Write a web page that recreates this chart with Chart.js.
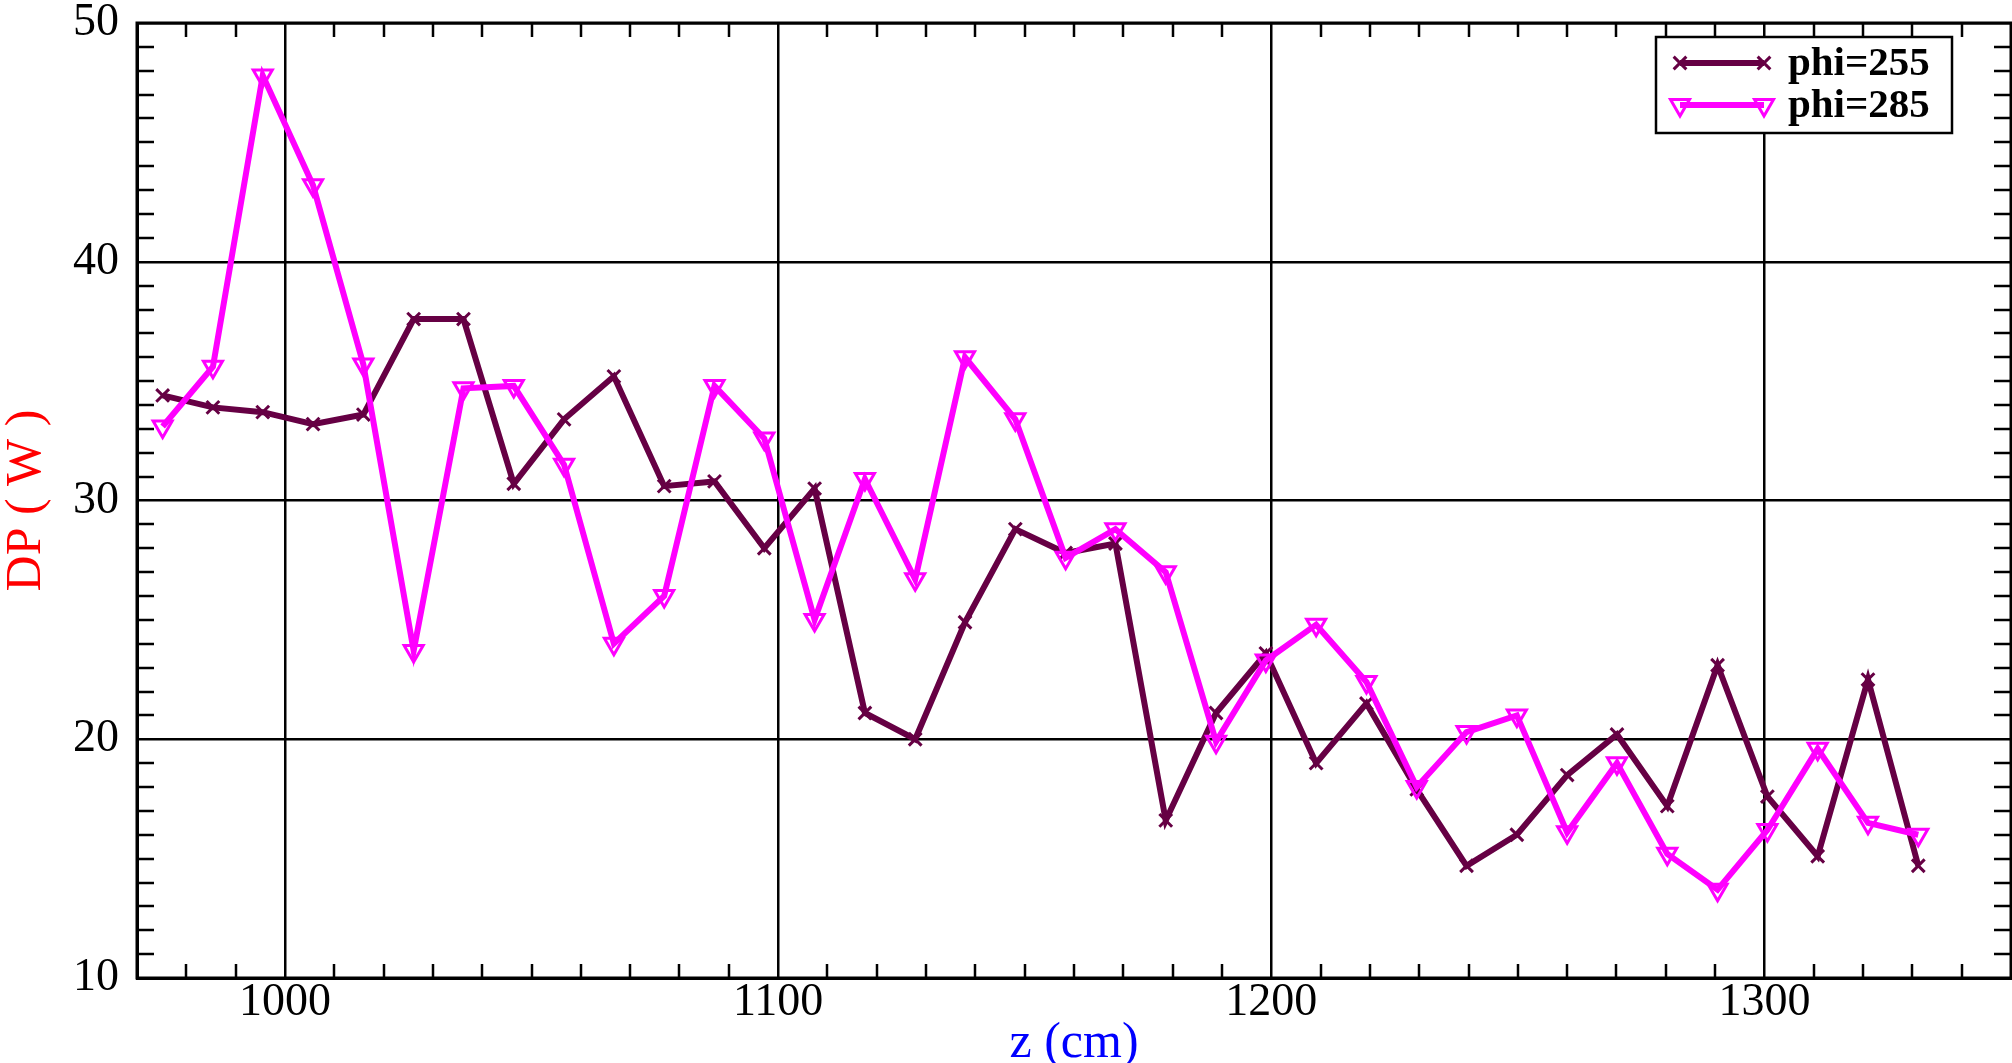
<!DOCTYPE html>
<html>
<head>
<meta charset="utf-8">
<script src="https://cdn.jsdelivr.net/npm/chart.js@4/dist/chart.umd.min.js"></script>
<style>
html, body { margin: 0; padding: 0; background: #fff; overflow: hidden; }
canvas { display: block; }
</style>
</head>
<body>
<canvas id="chart" width="2012" height="1063"></canvas>
<script>
var z_cm = [975.2, 985.4, 995.5, 1005.7, 1015.9, 1026.1, 1036.2, 1046.4, 1056.6, 1066.7,
            1076.9, 1087.1, 1097.2, 1107.4, 1117.6, 1127.8, 1137.9, 1148.1, 1158.3, 1168.4,
            1178.6, 1188.8, 1198.9, 1209.1, 1219.3, 1229.5, 1239.6, 1249.8, 1260.0, 1270.1,
            1280.3, 1290.5, 1300.6, 1310.8, 1321.0, 1331.2];
var phi_255 = [34.4, 33.9, 33.7, 33.2, 33.6, 37.6, 37.6, 30.7, 33.4, 35.2,
               30.6, 30.8, 28.0, 30.5, 21.1, 20.0, 24.9, 28.8, 27.8, 28.2,
               16.6, 21.1, 23.6, 19.0, 21.5, 17.9, 14.7, 16.0, 18.5, 20.2,
               17.2, 23.1, 17.6, 15.1, 22.5, 14.7];
var phi_285 = [33.1, 35.6, 47.8, 43.2, 35.7, 23.7, 34.7, 34.8, 31.5, 24.0,
               26.0, 34.8, 32.6, 25.0, 30.9, 26.7, 36.0, 33.4, 27.6, 28.8,
               27.0, 19.9, 23.3, 24.8, 22.4, 18.0, 20.3, 21.0, 16.1, 19.0,
               15.2, 13.7, 16.2, 19.6, 16.5, 16.0];
var series_names = ['phi=255', 'phi=285'];
var x_ticks = [1000, 1100, 1200, 1300];
var y_ticks = [10, 20, 30, 40, 50];

var serif = "'Liberation Serif', 'Times New Roman', serif";

function pairs(xs, ys) {
    return xs.map(function (x, i) { return {x: x, y: ys[i]}; });
}

// chart.js keeps a few px on the right that we don't want, push the plot to the edge
var stretch_plugin = {
    id: 'stretch',
    afterLayout: function (chart) {
        var a = chart.chartArea, sx = chart.scales.x;
        a.right = 2011;
        a.width = a.right - a.left;
        sx.right = 2011;
        sx.width = sx.right - sx.left;
        sx.configure();
    }
};

// frame on all four sides plus the small inward ticks
var frame_plugin = {
    id: 'frame',
    afterDatasetsDraw: function (chart) {
        var ctx = chart.ctx, a = chart.chartArea;
        var sx = chart.scales.x, sy = chart.scales.y;
        ctx.save();
        ctx.strokeStyle = '#000';
        ctx.lineWidth = 2.5;
        ctx.beginPath();
        for (var v = 980; v < 1350; v += 10) {
            if (v % 100 == 0) continue;
            var px = Math.round(sx.getPixelForValue(v));
            ctx.moveTo(px, a.bottom); ctx.lineTo(px, a.bottom - 14);
            ctx.moveTo(px, a.top); ctx.lineTo(px, a.top + 14);
        }
        for (var w = 11; w < 50; w++) {
            if (w % 10 == 0) continue;
            var py = Math.round(sy.getPixelForValue(w));
            ctx.moveTo(a.left, py); ctx.lineTo(a.left + 17, py);
            ctx.moveTo(a.right, py); ctx.lineTo(a.right - 17, py);
        }
        ctx.stroke();
        ctx.lineWidth = 3;
        ctx.strokeRect(a.left, a.top, a.right - a.left, a.bottom - a.top);
        ctx.restore();
    }
};

// boxed legend in the top right corner, xmgrace style
var legend_plugin = {
    id: 'boxlegend',
    afterDraw: function (chart) {
        var ctx = chart.ctx;
        var bx = 1656, by = 37, bw = 296, bh = 96;
        ctx.save();
        ctx.fillStyle = '#fff';
        ctx.fillRect(bx, by, bw, bh);
        ctx.strokeStyle = '#000';
        ctx.lineWidth = 2.5;
        ctx.strokeRect(bx, by, bw, bh);
        chart.data.datasets.forEach(function (ds, i) {
            var cy = by + 26 + i * 42;
            var x0 = 1680, x1 = 1764;
            ctx.strokeStyle = ds.borderColor;
            ctx.lineWidth = ds.borderWidth;
            ctx.beginPath();
            ctx.moveTo(x0, cy); ctx.lineTo(x1, cy);
            ctx.stroke();
            [x0, x1].forEach(function (px) {
                ctx.fillStyle = ds.backgroundColor;
                ctx.strokeStyle = ds.borderColor;
                ctx.lineWidth = ds.pointBorderWidth;
                Chart.helpers.drawPoint(ctx, {
                    pointStyle: ds.pointStyle, rotation: ds.pointRotation || 0,
                    radius: ds.pointRadius, borderWidth: ds.pointBorderWidth
                }, px, cy);
            });
            ctx.fillStyle = '#000';
            ctx.font = 'bold 41px ' + serif;
            ctx.textBaseline = 'middle';
            ctx.textAlign = 'left';
            ctx.fillText(ds.label, 1788, cy + 1);
        });
        ctx.restore();
    }
};

function no_pad(s) {
    s.paddingTop = 0; s.paddingBottom = 0; s.paddingLeft = 0; s.paddingRight = 0;
}

var chart = new Chart(document.getElementById('chart'), {
    type: 'line',
    data: {
        datasets: [
            {
                label: series_names[0],
                data: pairs(z_cm, phi_255),
                borderColor: '#660044',
                backgroundColor: '#660044',
                borderWidth: 6,
                pointStyle: 'crossRot',
                pointRadius: 9,
                pointBorderWidth: 3,
                order: 2
            },
            {
                label: series_names[1],
                data: pairs(z_cm, phi_285),
                borderColor: '#ff00ff',
                backgroundColor: 'rgba(255,255,255,0)',
                borderWidth: 6,
                pointStyle: 'triangle',
                pointRotation: 180,
                pointRadius: 11,
                pointBorderWidth: 3,
                order: 1
            }
        ]
    },
    options: {
        responsive: false,
        animation: false,
        devicePixelRatio: 1,
        layout: {padding: {top: 23, right: 1, left: 0, bottom: 0}},
        plugins: {legend: {display: false}, tooltip: {enabled: false}},
        scales: {
            x: {
                type: 'linear',
                min: 970,
                max: 1350,
                afterBuildTicks: function (s) { s.ticks = x_ticks.map(function (v) { return {value: v}; }); },
                afterFit: function (s) { s.height = 85; no_pad(s); },
                grid: {color: '#000', lineWidth: 2.5, drawTicks: false},
                border: {color: '#000', width: 3},
                ticks: {color: '#000', padding: 2, maxRotation: 0,
                        callback: function (v) { return String(v); },
                        font: {family: serif, size: 46, lineHeight: 1}},
                title: {display: true, text: 'z (cm)', color: '#0000ff', padding: {top: 0, bottom: -6},
                        font: {family: serif, size: 50, lineHeight: 1}}
            },
            y: {
                min: 10,
                max: 50,
                afterBuildTicks: function (s) { s.ticks = y_ticks.map(function (v) { return {value: v}; }); },
                afterFit: function (s) { s.width = 137; no_pad(s); },
                grid: {color: '#000', lineWidth: 2.5, drawTicks: false},
                border: {color: '#000', width: 3},
                ticks: {color: '#000', padding: 18, font: {family: serif, size: 46, lineHeight: 1}},
                title: {display: true, text: 'DP ( W )', color: '#ff0000', padding: 2,
                        font: {family: serif, size: 50, lineHeight: 1}}
            }
        }
    },
    plugins: [stretch_plugin, frame_plugin, legend_plugin]
});
</script>
</body>
</html>
